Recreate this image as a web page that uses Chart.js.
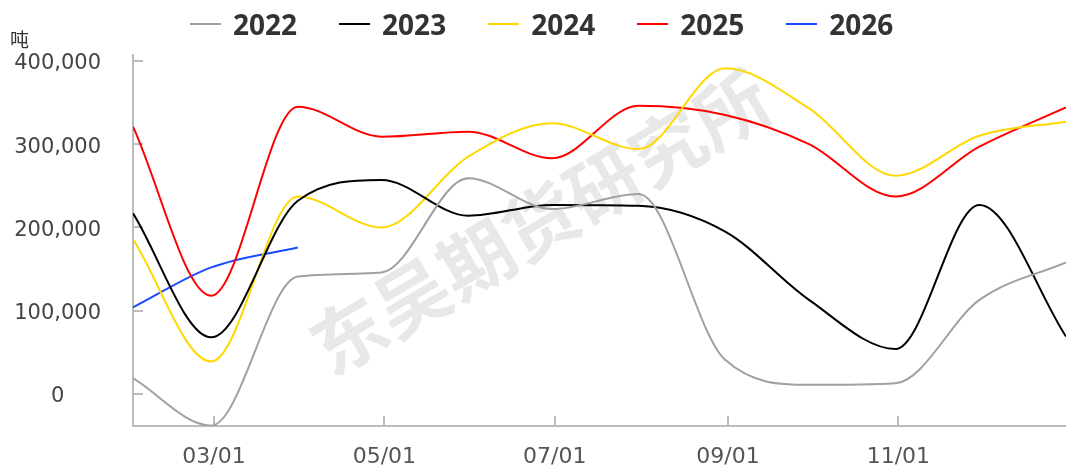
<!DOCTYPE html>
<html>
<head>
<meta charset="utf-8">
<script src="https://cdn.jsdelivr.net/npm/chart.js@4"></script>
<style>
  html, body { margin: 0; padding: 0; background: #fff; }
  #wrap { position: relative; width: 1066px; height: 466px; }
  #legend { position: absolute; left: 190px; top: 0; height: 48px; display: flex; align-items: center;
            font-family: "Noto Sans"; font-weight: bold; font-size: 28px; color: #333; }
  .item { display: flex; align-items: center; margin-right: 42px; }
  .item .ln { width: 31px; height: 2px; margin-right: 12px; }
  #unit { position: absolute; left: 10px; top: 25px; font-family: "Noto Sans CJK SC"; font-size: 19px; color: #333; }
</style>
</head>
<body>
<div id="wrap">
  <canvas id="chart" width="1066" height="466"></canvas>
  <div id="legend"></div>
  <div id="unit">吨</div>
</div>
<script>
// ---- Data (month-end readings) ----
const monthEnds = ['01/31','02/28','03/31','04/30','05/31','06/30','07/31','08/31','09/30','10/31','11/30','12/31'];
const years = ['2022','2023','2024','2025','2026'];
const v2022 = [19000, -38000, 141000, 146000, 259000, 222000, 240000, 41000, 11000, 13000, 113000, 158000];
const v2023 = [217000, 68000, 232000, 257000, 214000, 227000, 226000, 195000, 113000, 54000, 227000, 69000];
const v2024 = [186000, 39000, 237000, 200000, 285000, 325000, 294000, 391000, 343000, 262000, 310000, 327000];
const v2025 = [321000, 118000, 345000, 309000, 315000, 283000, 346000, 335000, 300000, 237000, 297000, 344000];
const v2026 = [104000, 152000, 176000];
const seriesValues = [v2022, v2023, v2024, v2025, v2026];
const colors = ['#a0a0a0', '#000000', '#ffd800', '#ff0000', '#1a4cff'];
const tickDates = ['03/01','05/01','07/01','09/01','11/01'];
const yTicks = [0, 100000, 200000, 300000, 400000];

// day of year for an mm/dd string
function dayOfYear(md) {
  const [m, d] = md.split('/').map(Number);
  return Math.round((Date.UTC(2023, m - 1, d) - Date.UTC(2023, 0, 0)) / 864e5);
}
const tickDays = tickDates.map(dayOfYear);

// ---- Legend ----
const legendEl = document.getElementById('legend');
years.forEach((y, i) => {
  const it = document.createElement('div');
  it.className = 'item';
  it.innerHTML = '<span class="ln" style="background:' + colors[i] + '"></span><span>' + y + '</span>';
  legendEl.appendChild(it);
});

// ---- Watermark ----
const watermark = {
  id: 'watermark',
  beforeDatasetsDraw(chart) {
    const ctx = chart.ctx;
    ctx.save();
    ctx.translate(540, 222);
    ctx.rotate(-30.5 * Math.PI / 180);
    ctx.font = 'bold 74px "Noto Sans CJK SC"';
    ctx.fillStyle = 'rgba(0,0,0,0.09)';
    ctx.textAlign = 'center';
    ctx.textBaseline = 'middle';
    ctx.fillText('东吴期货研究所', 0, 0);
    ctx.restore();
  }
};

// ---- Chart ----
const datasets = years.map((y, i) => ({
  label: y,
  data: seriesValues[i].map((v, j) => ({ x: dayOfYear(monthEnds[j]), y: v })),
  borderColor: colors[i],
  backgroundColor: colors[i],
  borderWidth: 2,
  pointRadius: 0,
  cubicInterpolationMode: 'monotone',
  fill: false
}));

new Chart(document.getElementById('chart'), {
  type: 'line',
  data: { datasets },
  plugins: [watermark],
  options: {
    responsive: false,
    animation: false,
    layout: { padding: { top: 55, left: 0, right: 0, bottom: 0 } },
    plugins: { legend: { display: false }, tooltip: { enabled: false } },
    scales: {
      x: {
        type: 'linear',
        min: dayOfYear(monthEnds[0]),
        max: dayOfYear(monthEnds[monthEnds.length - 1]),
        afterBuildTicks: s => { s.ticks = tickDays.map(v => ({ value: v })); },
        afterFit: s => { s.height = 40; s.paddingLeft = 0; s.paddingRight = 0; },
        grid: { drawOnChartArea: false, drawTicks: true, tickLength: -10, color: '#bbb', lineWidth: 2 },
        border: { color: '#bbb', width: 2 },
        ticks: {
          padding: 28,
          color: '#555',
          font: { family: 'DejaVu Sans', size: 22 },
          maxRotation: 0,
          callback: v => tickDates[tickDays.indexOf(v)]
        }
      },
      y: {
        min: -38400,
        max: 407000,
        afterBuildTicks: s => { s.ticks = yTicks.map(v => ({ value: v })); },
        afterFit: s => { s.width = 133; s.paddingTop = 0; s.paddingBottom = 0; },
        grid: { drawOnChartArea: false, drawTicks: true, tickLength: -10, color: '#bbb', lineWidth: 2 },
        border: { color: '#bbb', width: 2 },
        ticks: {
          crossAlign: 'center',
          padding: 42,
          labelOffset: 3,
          color: '#444',
          font: { family: 'DejaVu Sans', size: 21 },
          callback: v => v.toLocaleString('en-US')
        }
      }
    }
  }
});
</script>
</body>
</html>
